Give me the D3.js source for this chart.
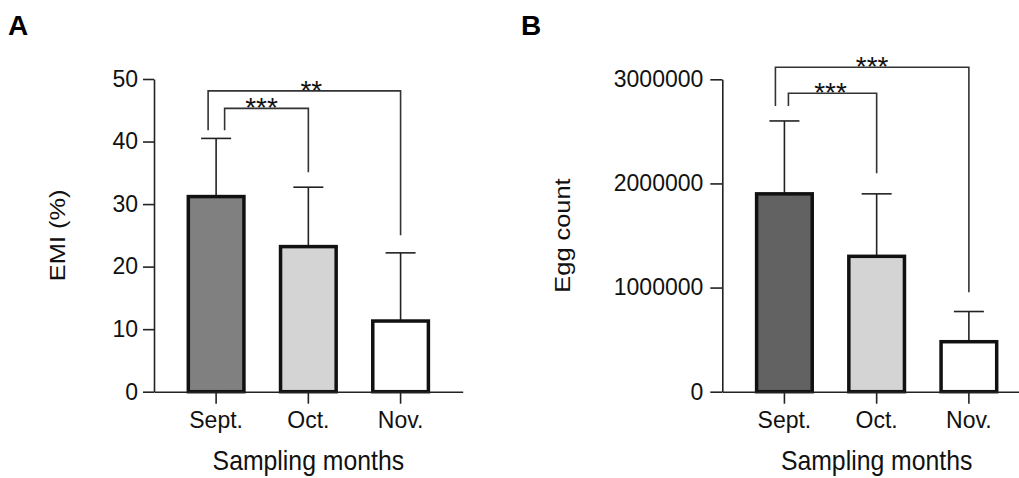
<!DOCTYPE html>
<html>
<head>
<meta charset="utf-8">
<script src="https://cdn.jsdelivr.net/npm/d3@7"></script>
<style>
  html, body { margin: 0; padding: 0; background: #fff; }
  svg { display: block; font-family: "Liberation Sans", Arial, sans-serif; }
</style>
</head>
<body>
<svg id="chart" width="1019" height="478"></svg>
<script>
// ---- data ----
const categories = ["Sept.", "Oct.", "Nov."];
const emiMean = [31.2, 23.2, 11.3];
const emiSD = [9.3, 9.5, 10.9];
const emiTicks = [0, 10, 20, 30, 40, 50];
const eggMean = [1900000, 1300000, 480000];
const eggSD = [700000, 600000, 290000];
const eggTicks = [0, 1000000, 2000000, 3000000];
// comparisons: [fromIndex, toIndex, label, bracketTop, leftLegEnd, rightLegEnd] (data units)
const emiComparisons = [
  [0, 1, "***", 45.3, 41.8, 35.1],
  [0, 2, "**", 48.1, 41.8, 25.0]
];
const eggComparisons = [
  [0, 1, "***", 2866000, 2744000, 2097000],
  [0, 2, "***", 3115000, 2744000, 955000]
];

const svg = d3.select("#chart");

function panel(cfg) {
  const g = svg.append("g");
  const x = d3.scaleBand().domain(cfg.categories)
    .range([cfg.x0, cfg.x1]).paddingInner(0.397).paddingOuter(0.372);
  const y = d3.scaleLinear().domain(cfg.domain).range([cfg.yBottom, cfg.yTop]);

  const rows = cfg.categories.map((c, i) => ({c, m: cfg.mean[i], sd: cfg.sd[i], fill: cfg.fills[i]}));

  // error bars (upper only)
  const eb = g.append("g").attr("stroke", "#222").attr("stroke-width", 1.6).attr("fill", "none");
  rows.forEach(r => {
    const cx = x(r.c) + x.bandwidth() / 2;
    eb.append("line").attr("x1", cx).attr("x2", cx).attr("y1", y(r.m)).attr("y2", y(r.m + r.sd));
    eb.append("line").attr("x1", cx - 15).attr("x2", cx + 15).attr("y1", y(r.m + r.sd)).attr("y2", y(r.m + r.sd));
  });

  // bars
  g.append("g").selectAll("rect").data(rows).join("rect")
    .attr("x", d => x(d.c))
    .attr("y", d => y(d.m))
    .attr("width", x.bandwidth())
    .attr("height", d => y(0) - y(d.m))
    .attr("fill", d => d.fill)
    .attr("stroke", "#111")
    .attr("stroke-width", 3.5);

  // axes
  const ya = g.append("g").attr("transform", `translate(${cfg.x0},0)`)
    .call(d3.axisLeft(y).tickValues(cfg.ticks).tickFormat(d3.format("d"))
      .tickSize(cfg.yTickSize).tickPadding(cfg.yTickPad).tickSizeOuter(0));
  const xa = g.append("g").attr("transform", `translate(0,${cfg.yBottom})`)
    .call(d3.axisBottom(x).tickSize(12).tickPadding(8).tickSizeOuter(0));
  [ya, xa].forEach(a => {
    a.selectAll("path, line").attr("stroke", "#222").attr("stroke-width", 1.6);
    a.selectAll("text").attr("font-size", 23).attr("fill", "#111")
      .attr("font-family", "Liberation Sans, Arial, sans-serif");
  });

  // significance brackets
  const bg = g.append("g").attr("stroke", "#333").attr("stroke-width", 1.6).attr("fill", "none");
  cfg.comparisons.forEach((cmp, k) => {
    const [a, b, label, top, lEnd, rEnd] = cmp;
    const xl = x(cfg.categories[a]) + x.bandwidth() / 2 + cfg.legOffsets[k];
    const xr = x(cfg.categories[b]) + x.bandwidth() / 2;
    bg.append("path").attr("d", `M${xl},${y(lEnd)}V${y(top)}H${xr}V${y(rEnd)}`);
    g.append("text").attr("x", (xl + xr) / 2 + cfg.starDx[k]).attr("y", y(top) + 9)
      .attr("text-anchor", "middle").attr("font-size", 28).attr("fill", "#111").text(label);
  });

  // titles
  g.append("text")
    .attr("transform", `translate(${cfg.yTitleX},${(cfg.yTop + cfg.yBottom) / 2}) rotate(-90) scale(1,0.86)`)
    .attr("text-anchor", "middle").attr("font-size", 25.4).attr("fill", "#111").text(cfg.yTitle);
  g.append("text")
    .attr("transform", `translate(${x(cfg.categories[1]) + x.bandwidth() / 2},470) scale(1,1.08)`)
    .attr("text-anchor", "middle").attr("font-size", 24.8).attr("fill", "#111").text("Sampling months");
  g.append("text").attr("x", cfg.labelX).attr("y", 35)
    .attr("font-size", 28).attr("font-weight", "bold").attr("fill", "#000").text(cfg.label);
}

panel({
  categories, mean: emiMean, sd: emiSD, ticks: emiTicks, domain: [0, 50],
  fills: ["#808080", "#d4d4d4", "#ffffff"],
  x0: 154, x1: 462.7, yBottom: 391.7, yTop: 79,
  yTickSize: 11, yTickPad: 5, yTitle: "EMI (%)", yTitleX: 64.5,
  comparisons: emiComparisons, legOffsets: [8.5, -8], starDx: [-5, 7],
  label: "A", labelX: 8
});
panel({
  categories, mean: eggMean, sd: eggSD, ticks: eggTicks, domain: [0, 3000000],
  fills: ["#626262", "#d4d4d4", "#ffffff"],
  x0: 722.3, x1: 1031, yBottom: 391.7, yTop: 79.3,
  yTickSize: 12, yTickPad: 7, yTitle: "Egg count", yTitleX: 570,
  comparisons: eggComparisons, legOffsets: [4, -9], starDx: [-2, 0],
  label: "B", labelX: 521
});
</script>
</body>
</html>
